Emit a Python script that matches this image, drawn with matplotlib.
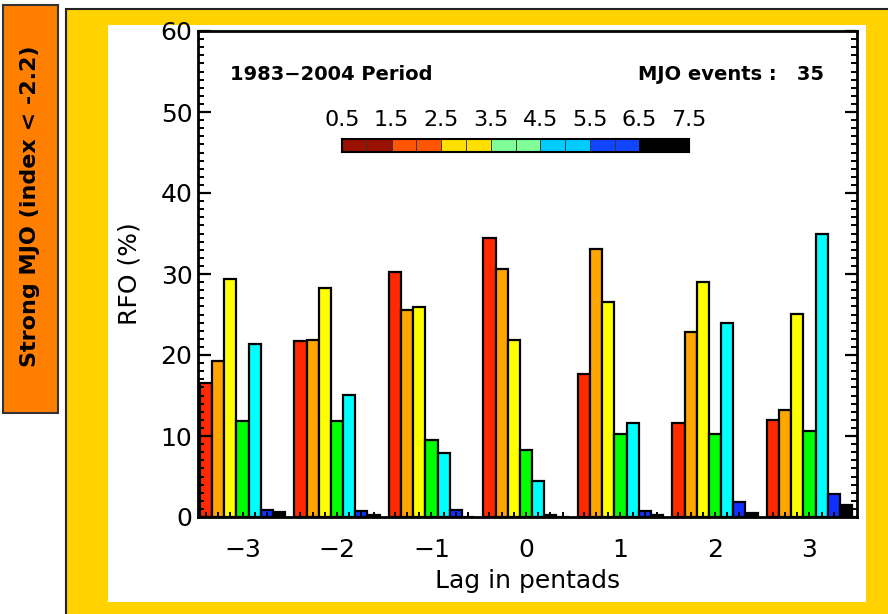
import numpy as np
import matplotlib
matplotlib.use("Agg")
import matplotlib.pyplot as plt
from matplotlib.patches import Rectangle

# data
lags = [-3, -2, -1, 0, 1, 2, 3]
phase_bins = ["0.5", "1.5", "2.5", "3.5", "4.5", "5.5", "6.5", "7.5"]
bar_colors = ["#ff2a00", "#ffa500", "#ffff00", "#00ff00", "#00ffff", "#1030ff", "#000000"]
cbar_colors = ["#991100", "#ff5500", "#ffe000", "#80ff99", "#00ccff", "#1144ff", "#000000"]
rfo = [
    [16.5, 21.7, 30.2, 34.5, 17.6, 11.6, 12.0],   # red
    [19.3, 21.9, 25.5, 30.6, 33.1, 22.9, 13.2],   # orange
    [29.4, 28.3, 25.9, 21.8, 26.5, 29.0, 25.1],   # yellow
    [11.8, 11.8, 9.5, 8.3, 10.2, 10.2, 10.6],     # green
    [21.4, 15.1, 7.9, 4.4, 11.6, 24.0, 35.0],     # cyan
    [0.9, 0.7, 0.9, 0.3, 0.8, 1.9, 2.8],          # blue
    [0.6, 0.3, 0.0, 0.0, 0.2, 0.5, 1.5],          # black
]

W, H = 888, 614
fig = plt.figure(figsize=(W / 100, H / 100), dpi=100)
fig.patch.set_facecolor("white")


def box(x0, y0, x1, y1):
    # pixel box -> figure fraction [left, bottom, width, height]
    return [x0 / W, 1 - y1 / H, (x1 - x0) / W, (y1 - y0) / H]


def frect(x0, y0, x1, y1, **kw):
    l, b, w, h = box(x0, y0, x1, y1)
    fig.patches.append(Rectangle((l, b), w, h, transform=fig.transFigure,
                                 zorder=-10, **kw))


# side label + frames
frect(3, 5, 58, 413, facecolor="#ff7f00", edgecolor="#333333", lw=1.5)
fig.text(30.5 / W, 1 - 206 / H, "Strong MJO (index < -2.2)", rotation=90,
         ha="center", va="center", fontsize=16, fontweight="bold")
frect(66, 9, 900, 630, facecolor="#ffd200", edgecolor="#222222", lw=1.5)
frect(108, 25, 866, 602, facecolor="white", edgecolor="none")

ax = fig.add_axes(box(198, 31, 857, 517))
ax.set_facecolor("white")
ax.set_axisbelow(False)

n = len(bar_colors)
bw = 0.129
for i in range(n):
    xs = np.array(lags) + (i - (n - 1) / 2) * bw
    ax.bar(xs, rfo[i], width=bw, color=bar_colors[i], edgecolor="black",
           linewidth=1.6, zorder=2)

ax.set_xlim(-3.471, 3.503)
ax.set_ylim(0, 60)
ax.set_yticks(np.arange(0, 61, 10))
ax.set_yticks(np.arange(0, 61, 1), minor=True)
ax.set_xticks(lags)
ax.set_xticklabels([str(l).replace("-", "\u2212") for l in lags])
bar_pos = [l + (i - (n - 1) / 2) * bw for l in lags for i in range(n)]
ax.set_xticks(bar_pos, minor=True)

ax.tick_params(axis="y", which="major", direction="in", length=9, width=1.6,
               left=True, right=True, labelsize=18, pad=4)
ax.tick_params(axis="y", which="minor", direction="in", length=4.5, width=1.4,
               left=True, right=True)
ax.tick_params(axis="x", which="both", direction="in", length=3.5, width=1.4,
               labelsize=18, pad=15)
for s in ax.spines.values():
    s.set_linewidth(2)
    s.set_zorder(5)

ax.set_ylabel("RFO (%)", fontsize=18, labelpad=14)
ax.set_xlabel("Lag in pentads", fontsize=18, labelpad=5)

ax.text(0.049, 0.91, "1983\u22122004 Period", transform=ax.transAxes,
        fontsize=14, fontweight="bold", ha="left", va="center")
ax.text(0.95, 0.91, "MJO events :   35", transform=ax.transAxes,
        fontsize=14, fontweight="bold", ha="right", va="center")

# colour key
cax = fig.add_axes(box(342, 139, 689, 152))
for k, c in enumerate(cbar_colors):
    for h in range(2):
        cax.add_patch(Rectangle((k + h * 0.5, 0), 0.5, 1, facecolor=c,
                                edgecolor="#333333" if c != "#000000" else "black",
                                lw=0.6))
cax.set_xlim(0, len(cbar_colors))
cax.set_ylim(0, 1)
cax.set_xticks([])
cax.set_yticks([])
for s in cax.spines.values():
    s.set_linewidth(1.5)
for k, lab in enumerate(phase_bins):
    fig.text((342 + k * (689 - 342) / 7) / W, 1 - 120 / H, lab,
             ha="center", va="center", fontsize=16)

fig.savefig("out.png", dpi=100)
